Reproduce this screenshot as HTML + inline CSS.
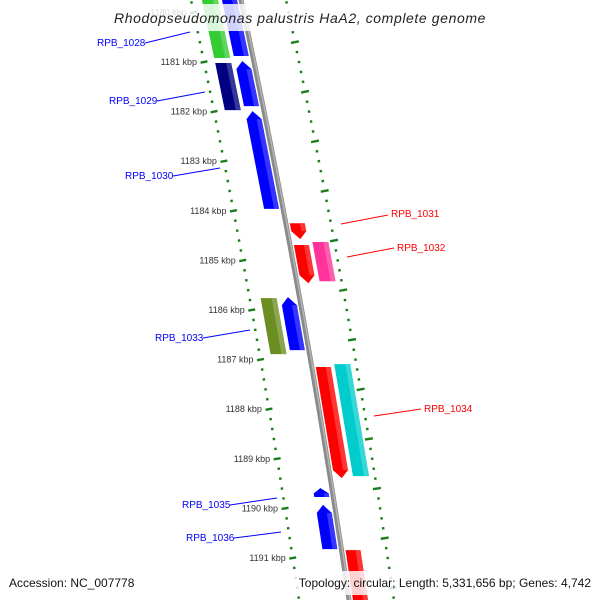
<!DOCTYPE html>
<html><head><meta charset="utf-8"><style>
html,body{margin:0;padding:0;background:#fff;}
svg{display:block;font-family:"Liberation Sans","DejaVu Sans",sans-serif;}
</style></head><body>
<svg id="map" width="600" height="600" viewBox="0 0 600 600">
<rect width="600" height="600" fill="#fff"/>
<g id="rulers"></g>
<g id="features"></g>
<g id="backbone"></g>
<g id="labels" font-size="10">
 <g fill="#0000ff" stroke="#0000ff">
  <line x1="145" y1="43" x2="190" y2="32" stroke-width="1"/>
  <text x="97" y="46" stroke="none">RPB_1028</text>
  <line x1="157" y1="101" x2="205" y2="92" stroke-width="1"/>
  <text x="109" y="104" stroke="none">RPB_1029</text>
  <line x1="173" y1="176" x2="220" y2="168" stroke-width="1"/>
  <text x="125" y="179" stroke="none">RPB_1030</text>
  <line x1="203" y1="338" x2="250" y2="330" stroke-width="1"/>
  <text x="155" y="341" stroke="none">RPB_1033</text>
  <line x1="230" y1="505" x2="277" y2="498" stroke-width="1"/>
  <text x="182" y="508" stroke="none">RPB_1035</text>
  <line x1="234" y1="538" x2="281" y2="532" stroke-width="1"/>
  <text x="186" y="541" stroke="none">RPB_1036</text>
 </g>
 <g fill="#ff0000" stroke="#ff0000">
  <line x1="341" y1="224" x2="388" y2="215" stroke-width="1"/>
  <text x="391" y="217" stroke="none">RPB_1031</text>
  <line x1="347" y1="257" x2="394" y2="248" stroke-width="1"/>
  <text x="397" y="251" stroke="none">RPB_1032</text>
  <line x1="374" y1="416" x2="421" y2="409" stroke-width="1"/>
  <text x="424" y="412" stroke="none">RPB_1034</text>
 </g>
</g>
<g>
 <rect x="112" y="4" width="382" height="27" fill="#fff" fill-opacity="0.82"/>
 <text x="300" y="23" text-anchor="middle" font-size="14" font-style="italic" fill="#222" letter-spacing="0.6">Rhodopseudomonas palustris HaA2, complete genome</text>
</g>
<g>
 <rect x="5" y="571" width="145" height="22" fill="#fff" fill-opacity="0.82"/>
 <text x="9" y="587" font-size="12" fill="#111">Accession: NC_007778</text>
</g>
<g>
 <rect x="258" y="571" width="338" height="24" fill="#fff" fill-opacity="0.82"/>
 <text x="591" y="587" text-anchor="end" font-size="12" fill="#111">Topology: circular; Length: 5,331,656 bp; Genes: 4,742</text>
</g>
</svg>
<script>
// gene data (kbp)
const geneStart = [1179.5, 1179.5, 1181.02, 1180.98, 1181.99, 1184.25, 1184.69, 1184.63, 1185.76, 1185.74, 1187.15, 1187.09, 1189.59, 1189.93, 1190.84];
const geneEnd   = [1180.92, 1180.88, 1181.97, 1181.89, 1183.96, 1184.57, 1185.46, 1185.42, 1186.89, 1186.81, 1189.39, 1189.35, 1189.77, 1190.82, 1192.1];
const geneStrand= [-1, -1, -1, -1, -1, 1, 1, 1, -1, -1, 1, 1, -1, -1, 1];
const geneTrack = [2, 1, 2, 1, 1, 1, 1, 2, 2, 1, 1, 2, 1, 1, 1];
const geneColor = ["#33cc33","#0000ff","#000080","#0000ff","#0000ff","#ff0000","#ff0000","#ff3399","#6b8e23","#0000ff","#ff0000","#00cccc","#0000ff","#0000ff","#ff0000"];
const leftTickLabels = [1180,1181,1182,1183,1184,1185,1186,1187,1188,1189,1190,1191];

const NS = "http://www.w3.org/2000/svg";
function yOf(kbp){ return 62 + (kbp - 1181) * 49.6; }
function bx(y){ return 241 + 0.213*y - 5.5e-5*y*y; }
function slope(y){ return 0.213 - 1.1e-4*y; }
function mk(tag, attrs, parent){ const e=document.createElementNS(NS,tag); for(const k in attrs) e.setAttribute(k,attrs[k]); parent.appendChild(e); return e; }

// backbone
const bb = document.getElementById('backbone');
let pts=[], pts2=[];
for(let y=-10;y<=610;y+=10){ pts.push((bx(y))+','+y); pts2.push((bx(y)+1)+','+y); }
const bl = mk('polyline',{points:pts.join(' '),fill:'none',stroke:'#8a8a8a','stroke-width':5},bb);


const bh = mk('polyline',{points:pts2.join(' '),fill:'none',stroke:'#b5b5b5','stroke-width':1.5},bb);



// rulers
const rg = document.getElementById('rulers');
function tick(y, off, len, name){
  const s=slope(y), n=Math.sqrt(1+s*s), ux=1/n, uy=-s/n;
  const cx=bx(y)+off;
  const l=mk('line',{x1:cx-ux*len/2,y1:y-uy*len/2,x2:cx+ux*len/2,y2:y+uy*len/2,stroke:'#1a7f1a','stroke-width':2.4},rg);
  
  
}
for(let k=1179.0;k<=1192.2;k+=0.2){
  const kk=Math.round(k*10)/10, y=yOf(kk);
  if(y<-5||y>605) continue;
  const major=Math.abs(kk-Math.round(kk))<0.01;
  tick(y,-50,major?7:2.5,major?'left-major-tick':'left-minor-tick');
}
for(let k=1179.6;k<=1192.2;k+=0.2){
  const kk=Math.round(k*10)/10, y=yOf(kk);
  if(y<-5||y>605) continue;
  const major=Math.abs((kk-0.6)-Math.round(kk-0.6))<0.01;
  tick(y,45,major?8:2.5,major?'right-major-tick':'right-minor-tick');
}
leftTickLabels.forEach(v=>{
  const y=yOf(v);
  const t=mk('text',{x:bx(y)-57,y:y+3,'text-anchor':'end','font-size':9,fill:'#333'},rg);
  t.textContent=v+' kbp';
  
  
});

// features
const fg=document.getElementById('features');
function shade(c){ // lighter version
  const r=parseInt(c.substr(1,2),16),g=parseInt(c.substr(3,2),16),b=parseInt(c.substr(5,2),16);
  const f=v=>Math.round(v+(255-v)*0.35).toString(16).padStart(2,'0');
  return '#'+f(r)+f(g)+f(b);
}
geneStart.forEach((st,i)=>{
  const y0=yOf(st), y1=yOf(geneEnd[i]);
  const side=geneStrand[i];
  const inner=geneTrack[i]===1;
  let a,b;
  if(inner){ a=4; b=19; } else { a=23; b=39; }
  const o0=side>0?a:-b, o1=side>0?b:-a;
  const tip=inner?Math.min(8,(y1-y0)*0.6):0;
  let poly=[];
  if(side<0){
    const ym=y0+tip;
    poly=[[bx(y0)+(o0+o1)/2,y0],[bx(ym)+o1,ym],[bx(y1)+o1,y1],[bx(y1)+o0,y1],[bx(ym)+o0,ym]];
  } else {
    const ym=y1-tip;
    poly=[[bx(y0)+o0,y0],[bx(y0)+o1,y0],[bx(ym)+o1,ym],[bx(y1)+(o0+o1)/2,y1],[bx(ym)+o0,ym]];
  }
  const p=mk('polygon',{points:poly.map(q=>q.join(',')).join(' '),fill:geneColor[i]},fg);
  
  
  // highlight strip
  const h0=o1-5, ys=side<0?y0+tip:y0, ye=side<0?y1:y1-tip;
  const hp=mk('polygon',{points:[[bx(ys)+h0,ys],[bx(ys)+o1,ys],[bx(ye)+o1,ye],[bx(ye)+h0,ye]].map(q=>q.join(',')).join(' '),fill:shade(geneColor[i]),'fill-opacity':0.6},fg);
  
  
});
</script>
</body></html>
